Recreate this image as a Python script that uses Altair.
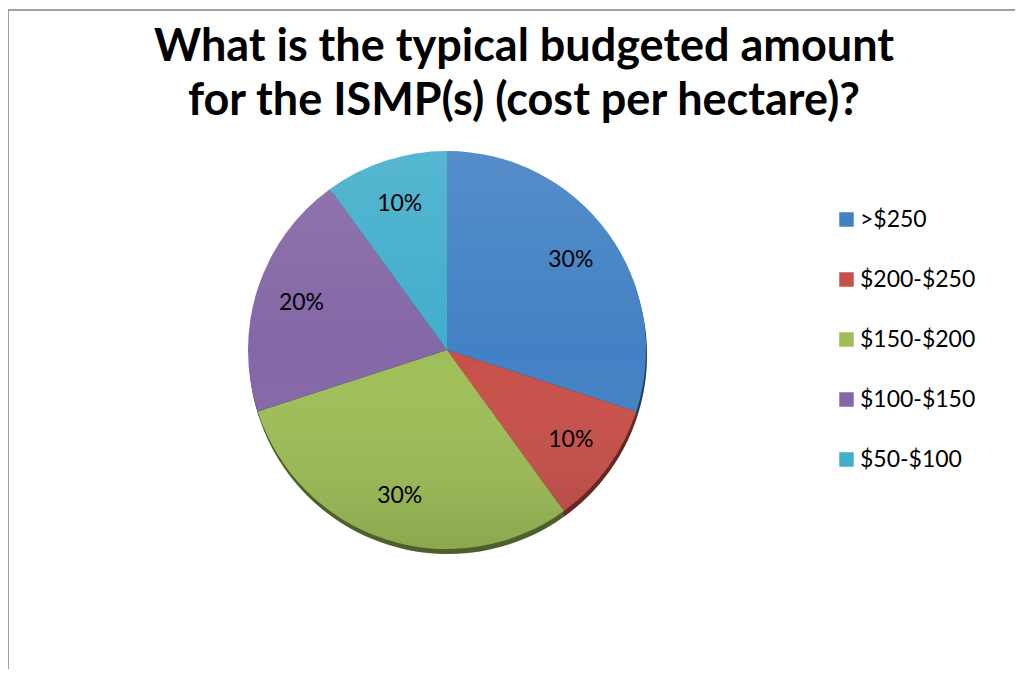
import altair as alt
import pandas as pd

categories = [">$250", "$200-$250", "$150-$200", "$100-$150", "$50-$100"]
shares = [30, 10, 30, 20, 10]
colors = ["#4281C4", "#C8504A", "#9FBE58", "#8467A6", "#42AECB"]
title_lines = ["What is the typical budgeted amount", "for the ISMP(s) (cost per hectare)?"]

df = pd.DataFrame({"cat": categories, "value": shares, "idx": list(range(len(categories)))})

W, H = 1007, 661
CX, CY, R = 439, 342, 199
FONT = "Lato"

color = alt.Color(
    "cat:N",
    scale=alt.Scale(domain=categories, range=colors),
    legend=alt.Legend(
        title=None, orient="none", legendX=827, legendY=200,
        symbolType="square", symbolSize=210, symbolStrokeWidth=0, symbolOpacity=1,
        labelFont=FONT, labelFontSize=23, labelColor="#000000", labelOffset=2,
        rowPadding=36, labelLimit=300, padding=0,
    ),
)
theta = alt.Theta("value:Q", stack=True)
order = alt.Order("idx:Q", sort="ascending")

base = alt.Chart(df)

shadow = base.mark_arc(radius=R, stroke=None).encode(
    theta=theta, order=order, color=color,
    x=alt.value(CX + 1), y=alt.value(CY + 5),
)
shadow_dark = alt.Chart(df.head(1)).mark_arc(
    radius=R, theta=0, theta2=6.2832, fill="#000000", fillOpacity=0.5
).encode(x=alt.value(CX + 1), y=alt.value(CY + 5))

pie = base.mark_arc(radius=R, stroke=None).encode(
    theta=theta, order=order, color=color,
    x=alt.value(CX), y=alt.value(CY),
)

shade = alt.Chart(df.head(1)).mark_arc(
    radius=R, theta=0, theta2=6.2832,
    fill=alt.Gradient(
        gradient="linear", x1=0, y1=0, x2=0, y2=1,
        stops=[alt.GradientStop(color="rgba(255,255,255,0.10)", offset=0),
               alt.GradientStop(color="rgba(255,255,255,0)", offset=0.5),
               alt.GradientStop(color="rgba(0,0,0,0.12)", offset=1)],
    ),
).encode(x=alt.value(CX), y=alt.value(CY))

labels = base.transform_calculate(lbl="datum.value + '%'").mark_text(
    radius=153, font=FONT, fontSize=23, color="#000000", baseline="middle", align="center"
).encode(
    theta=theta, order=order, text="lbl:N",
    x=alt.value(CX), y=alt.value(CY),
)

tdf = pd.DataFrame({"t": title_lines, "line": [0, 1]})
title = alt.Chart(tdf).mark_text(
    font=FONT, fontSize=45, fontWeight="bold", color="#000000",
    align="center", baseline="alphabetic",
).encode(
    text="t:N",
    x=alt.value(516),
    y=alt.Y("line:Q", scale=alt.Scale(domain=[0, 1], range=[53, 107]), axis=None),
)

border_top = alt.Chart(df.head(1)).mark_rule(color="#A0A0A0", strokeWidth=2).encode(
    x=alt.value(0), x2=alt.value(W), y=alt.value(2), y2=alt.value(2)
)
border_left = alt.Chart(df.head(1)).mark_rule(color="#A0A0A0", strokeWidth=2).encode(
    x=alt.value(0), x2=alt.value(0), y=alt.value(2), y2=alt.value(H)
)

chart = alt.layer(shadow, shadow_dark, pie, shade, labels, title, border_top, border_left).properties(
    width=W, height=H, autosize=alt.AutoSizeParams(type="none"), padding=0,
).configure_view(stroke=None).resolve_scale(y="independent")

chart.save("out.html", embed_options={"renderer": "svg", "actions": False})
